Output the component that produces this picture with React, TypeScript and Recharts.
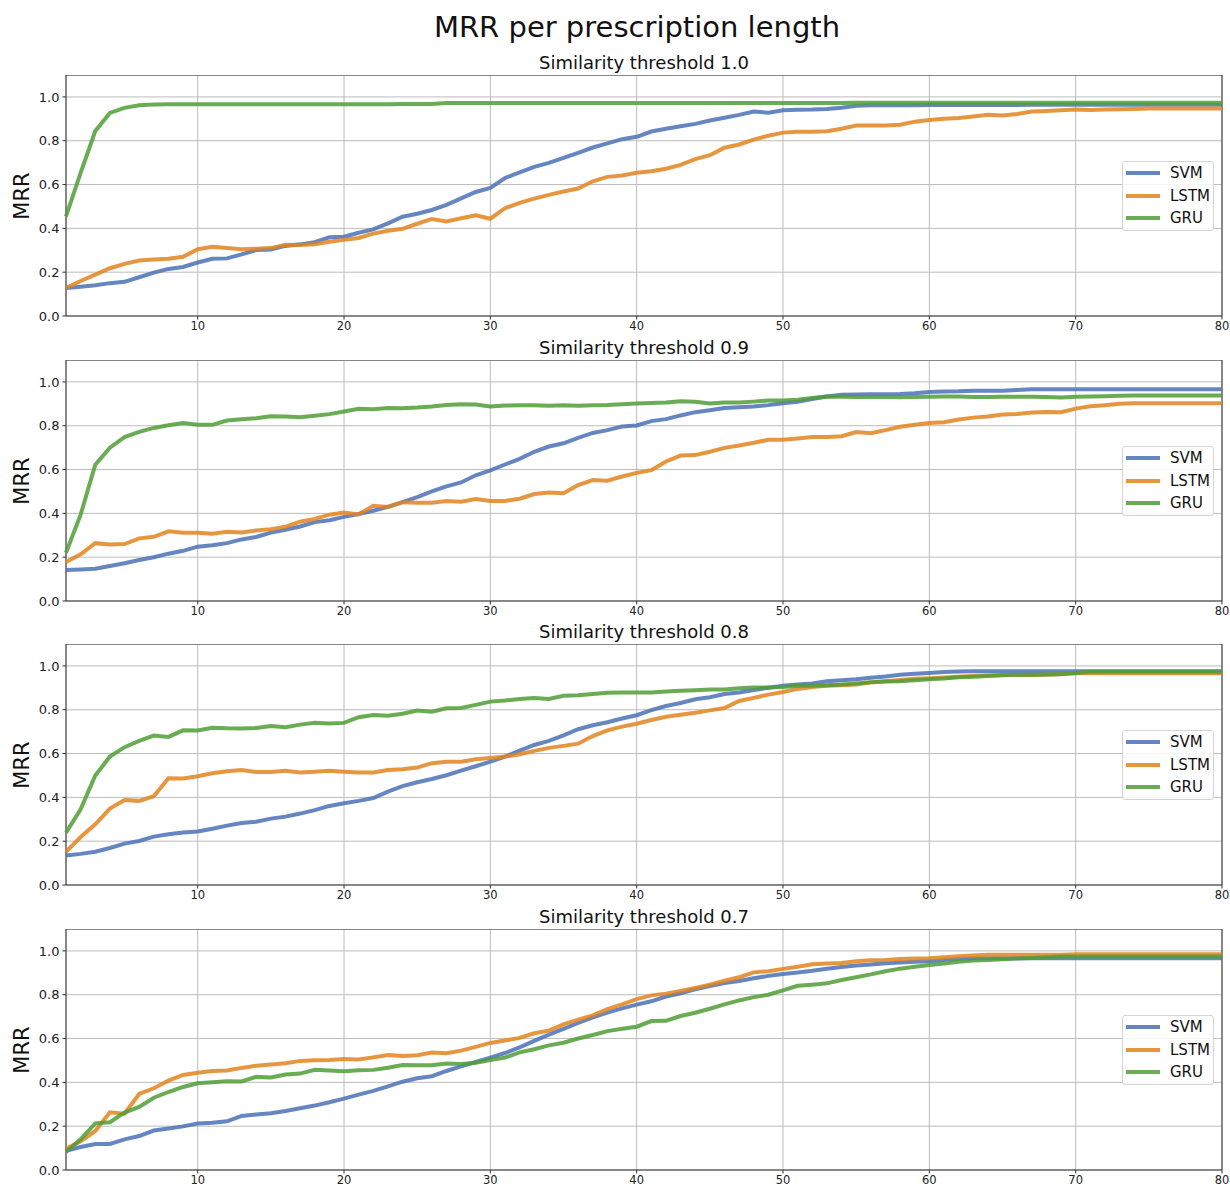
import React from "react"
import { LineChart, Line, XAxis, YAxis, CartesianGrid, Legend, ReferenceArea } from "recharts"

// prescription lengths 1..80
const lengths = Array.from({ length: 80 }, (_, i) => i + 1)
const xTicks = [10, 20, 30, 40, 50, 60, 70, 80]
const yTicks = [0, 0.2, 0.4, 0.6, 0.8, 1.0]
const seriesNames = ["SVM", "LSTM", "GRU"]

// threshold 1.0
const svm10 = [
  0.128, 0.134, 0.14, 0.15, 0.156, 0.177, 0.198, 0.215, 0.224, 0.244,
  0.261, 0.263, 0.281, 0.301, 0.304, 0.32, 0.327, 0.337, 0.359, 0.362,
  0.38, 0.395, 0.423, 0.453, 0.467, 0.484, 0.507, 0.537, 0.566, 0.585,
  0.63, 0.655, 0.681, 0.699, 0.722, 0.745, 0.769, 0.788, 0.807, 0.818,
  0.842, 0.855, 0.866, 0.877, 0.892, 0.905, 0.918, 0.933, 0.928, 0.939,
  0.941, 0.942, 0.945, 0.951, 0.96, 0.962, 0.962, 0.962, 0.962, 0.963,
  0.963, 0.963, 0.963, 0.963, 0.963, 0.963, 0.964, 0.964, 0.964, 0.964,
  0.964, 0.964, 0.964, 0.964, 0.964, 0.964, 0.964, 0.964, 0.964, 0.964,
]
const lstm10 = [
  0.128, 0.16, 0.189, 0.218, 0.238, 0.253, 0.258, 0.261, 0.27, 0.305,
  0.316, 0.31, 0.305, 0.307, 0.31, 0.325, 0.324, 0.328, 0.339, 0.348,
  0.356, 0.376, 0.389, 0.398, 0.421, 0.443, 0.432, 0.446, 0.46, 0.444,
  0.492, 0.516, 0.536, 0.553, 0.568, 0.582, 0.615, 0.635, 0.641, 0.654,
  0.661, 0.672, 0.69, 0.716, 0.734, 0.768, 0.783, 0.805, 0.823, 0.837,
  0.841, 0.841, 0.843, 0.855, 0.869, 0.87, 0.87, 0.873, 0.887, 0.895,
  0.9, 0.904, 0.911, 0.918, 0.915, 0.922, 0.933, 0.936, 0.939, 0.942,
  0.94, 0.942, 0.944, 0.945, 0.947, 0.947, 0.947, 0.947, 0.947, 0.947,
]
const gru10 = [
  0.455, 0.653, 0.844, 0.927, 0.95, 0.962, 0.965, 0.966, 0.966, 0.966,
  0.966, 0.966, 0.966, 0.966, 0.966, 0.966, 0.966, 0.966, 0.966, 0.966,
  0.966, 0.966, 0.966, 0.968, 0.968, 0.968, 0.972, 0.972, 0.972, 0.972,
  0.972, 0.972, 0.972, 0.972, 0.972, 0.972, 0.972, 0.972, 0.972, 0.972,
  0.972, 0.972, 0.972, 0.972, 0.972, 0.972, 0.972, 0.972, 0.972, 0.972,
  0.972, 0.972, 0.972, 0.972, 0.973, 0.973, 0.973, 0.973, 0.973, 0.973,
  0.973, 0.973, 0.973, 0.973, 0.973, 0.973, 0.973, 0.973, 0.973, 0.973,
  0.973, 0.973, 0.973, 0.973, 0.973, 0.973, 0.973, 0.973, 0.973, 0.973,
]

// threshold 0.9
const svm09 = [
  0.141, 0.144, 0.147, 0.16, 0.172, 0.187, 0.2, 0.216, 0.229, 0.248,
  0.254, 0.264, 0.281, 0.292, 0.312, 0.325, 0.34, 0.36, 0.369, 0.384,
  0.397, 0.412, 0.43, 0.451, 0.474, 0.5, 0.523, 0.541, 0.574, 0.596,
  0.623, 0.649, 0.681, 0.705, 0.72, 0.745, 0.767, 0.78, 0.796, 0.801,
  0.821, 0.83, 0.847, 0.862, 0.871, 0.881, 0.884, 0.888, 0.894, 0.903,
  0.909, 0.922, 0.933, 0.941, 0.942, 0.944, 0.944, 0.945, 0.948, 0.954,
  0.956, 0.957, 0.96, 0.96, 0.96, 0.963, 0.966, 0.966, 0.966, 0.966,
  0.966, 0.966, 0.966, 0.966, 0.966, 0.966, 0.966, 0.966, 0.966, 0.966,
]
const lstm09 = [
  0.178, 0.213, 0.264, 0.258, 0.26, 0.286, 0.293, 0.318, 0.312, 0.312,
  0.307, 0.316, 0.313, 0.322, 0.328, 0.339, 0.362, 0.375, 0.394, 0.404,
  0.395, 0.435, 0.429, 0.451, 0.448, 0.448, 0.456, 0.453, 0.465, 0.457,
  0.457, 0.467, 0.488, 0.495, 0.492, 0.529, 0.552, 0.549, 0.568, 0.585,
  0.597, 0.637, 0.664, 0.666, 0.681, 0.699, 0.71, 0.722, 0.736, 0.736,
  0.742, 0.748, 0.749, 0.752, 0.771, 0.766, 0.78, 0.795, 0.804, 0.812,
  0.816, 0.828, 0.837, 0.842, 0.851, 0.854, 0.86, 0.863, 0.862, 0.878,
  0.889, 0.894, 0.9, 0.903, 0.903, 0.903, 0.903, 0.903, 0.903, 0.903,
]
const gru09 = [
  0.22, 0.394, 0.622, 0.7, 0.748, 0.772, 0.79, 0.802, 0.812, 0.805,
  0.804, 0.824, 0.83, 0.834, 0.843, 0.842, 0.839, 0.846, 0.853, 0.865,
  0.877, 0.875, 0.881, 0.88, 0.883, 0.888, 0.895, 0.898, 0.897, 0.888,
  0.892, 0.894, 0.894, 0.891, 0.894, 0.891, 0.894, 0.895, 0.898, 0.902,
  0.904, 0.906, 0.912, 0.909, 0.901, 0.906, 0.906, 0.91, 0.915, 0.915,
  0.919, 0.927, 0.933, 0.932, 0.931, 0.931, 0.931, 0.93, 0.931, 0.932,
  0.933, 0.933, 0.931, 0.931, 0.932, 0.932, 0.932, 0.931, 0.929, 0.932,
  0.933, 0.935, 0.937, 0.938, 0.938, 0.938, 0.938, 0.938, 0.938, 0.938,
]

// threshold 0.8
const svm08 = [
  0.135, 0.142, 0.152, 0.169, 0.189, 0.201, 0.221, 0.232, 0.24, 0.244,
  0.257, 0.271, 0.283, 0.289, 0.303, 0.312, 0.326, 0.342, 0.361, 0.373,
  0.384, 0.397, 0.426, 0.451, 0.469, 0.484, 0.501, 0.522, 0.542, 0.563,
  0.586, 0.613, 0.639, 0.658, 0.683, 0.711, 0.729, 0.743, 0.76, 0.775,
  0.798, 0.817, 0.831, 0.848, 0.857, 0.872, 0.879, 0.89, 0.9, 0.91,
  0.915, 0.92, 0.93, 0.935, 0.939, 0.946, 0.952, 0.96, 0.964, 0.968,
  0.972, 0.975, 0.976, 0.976, 0.976, 0.976, 0.976, 0.976, 0.976, 0.976,
  0.976, 0.976, 0.976, 0.976, 0.976, 0.976, 0.976, 0.976, 0.976, 0.976,
]
const lstm08 = [
  0.151, 0.219, 0.277, 0.349, 0.388, 0.384, 0.405, 0.487, 0.486, 0.496,
  0.51, 0.519, 0.525, 0.516, 0.516, 0.521, 0.513, 0.517, 0.521, 0.517,
  0.514, 0.514, 0.525, 0.528, 0.536, 0.556, 0.563, 0.563, 0.574, 0.58,
  0.586, 0.597, 0.612, 0.626, 0.635, 0.645, 0.68, 0.706, 0.723, 0.736,
  0.753, 0.768, 0.777, 0.786, 0.797, 0.808, 0.84, 0.854, 0.869, 0.881,
  0.895, 0.904, 0.909, 0.912, 0.915, 0.924, 0.93, 0.936, 0.941, 0.944,
  0.947, 0.951, 0.954, 0.956, 0.958, 0.959, 0.959, 0.96, 0.962, 0.966,
  0.967, 0.967, 0.967, 0.967, 0.967, 0.967, 0.967, 0.967, 0.967, 0.967,
]
const gru08 = [
  0.239, 0.345, 0.5, 0.586, 0.629, 0.658, 0.682, 0.676, 0.706, 0.705,
  0.718, 0.715, 0.714, 0.717, 0.726, 0.72, 0.732, 0.74, 0.737, 0.74,
  0.766, 0.776, 0.773, 0.782, 0.796, 0.791, 0.807, 0.808, 0.822, 0.837,
  0.842, 0.849, 0.854, 0.849, 0.864, 0.866, 0.872, 0.878, 0.879, 0.879,
  0.879, 0.883, 0.887, 0.889, 0.892, 0.892, 0.898, 0.901, 0.902, 0.904,
  0.909, 0.91, 0.912, 0.915, 0.92, 0.926, 0.929, 0.93, 0.935, 0.939,
  0.942, 0.948, 0.951, 0.954, 0.957, 0.96, 0.96, 0.961, 0.963, 0.968,
  0.973, 0.973, 0.973, 0.973, 0.973, 0.973, 0.973, 0.973, 0.973, 0.973,
]

// threshold 0.7
const svm07 = [
  0.088, 0.105, 0.119, 0.119, 0.14, 0.155, 0.18, 0.189, 0.199, 0.212,
  0.216, 0.222, 0.247, 0.253, 0.259, 0.269, 0.282, 0.294, 0.309, 0.326,
  0.344, 0.361, 0.382, 0.403, 0.419, 0.428, 0.452, 0.473, 0.493, 0.513,
  0.534, 0.56, 0.589, 0.618, 0.644, 0.671, 0.697, 0.718, 0.738, 0.755,
  0.77, 0.792, 0.807, 0.825, 0.84, 0.853, 0.863, 0.875, 0.886, 0.895,
  0.901, 0.909, 0.919, 0.927, 0.933, 0.938, 0.944, 0.947, 0.95, 0.953,
  0.959, 0.963, 0.967, 0.967, 0.967, 0.967, 0.967, 0.967, 0.967, 0.967,
  0.967, 0.967, 0.967, 0.967, 0.967, 0.967, 0.967, 0.967, 0.967, 0.967,
]
const lstm07 = [
  0.097, 0.131, 0.178, 0.263, 0.257, 0.347, 0.373, 0.408, 0.434, 0.444,
  0.452, 0.454, 0.466, 0.476, 0.481, 0.487, 0.498, 0.501, 0.502, 0.507,
  0.504, 0.514, 0.525, 0.52, 0.524, 0.536, 0.533, 0.545, 0.562, 0.58,
  0.591, 0.603, 0.624, 0.636, 0.665, 0.686, 0.706, 0.734, 0.756, 0.78,
  0.797, 0.805, 0.817, 0.831, 0.846, 0.864, 0.88, 0.902, 0.907, 0.918,
  0.928, 0.939, 0.942, 0.945, 0.953, 0.957, 0.959, 0.963, 0.965, 0.966,
  0.971, 0.976, 0.979, 0.982, 0.982, 0.982, 0.982, 0.982, 0.982, 0.985,
  0.985, 0.985, 0.985, 0.985, 0.985, 0.985, 0.985, 0.985, 0.985, 0.985,
]
const gru07 = [
  0.082, 0.14, 0.213, 0.218, 0.262, 0.288, 0.33, 0.356, 0.379, 0.396,
  0.4, 0.405, 0.404, 0.425, 0.422, 0.436, 0.44, 0.457, 0.454, 0.451,
  0.455, 0.457, 0.467, 0.479, 0.478, 0.478, 0.486, 0.484, 0.49, 0.502,
  0.513, 0.537, 0.551, 0.569, 0.581, 0.6, 0.616, 0.634, 0.645, 0.654,
  0.68, 0.681, 0.703, 0.718, 0.736, 0.756, 0.774, 0.789, 0.8, 0.82,
  0.841, 0.846, 0.852, 0.867, 0.88, 0.893, 0.907, 0.919, 0.928, 0.936,
  0.942, 0.951, 0.956, 0.959, 0.962, 0.965, 0.968, 0.971, 0.975, 0.975,
  0.975, 0.975, 0.975, 0.975, 0.975, 0.975, 0.975, 0.975, 0.975, 0.975,
]

const thresholds = ["1.0", "0.9", "0.8", "0.7"]
const svmSeries = [svm10, svm09, svm08, svm07]
const lstmSeries = [lstm10, lstm09, lstm08, lstm07]
const gruSeries = [gru10, gru09, gru08, gru07]

const FONT = "'DejaVu Sans', Verdana, sans-serif"
const COLORS = { svm: "#4a71b6", lstm: "#e3841f", gru: "#4f9e36" }
const PLOT_TOPS = [75, 360, 644, 929]
const PLOT_H = 241
const LINE_W = 4

function LegendBox({ payload }: any) {
  // keep plotting order (recharts sorts legend items by name otherwise)
  const items = seriesNames
    .map((n) => (payload || []).find((p: any) => p.value === n))
    .filter(Boolean)
  return (
    <div
      style={{
        border: "1px solid #d4d4d4",
        borderRadius: 3,
        background: "rgba(255,255,255,0.85)",
        fontFamily: FONT,
        fontSize: 15,
        color: "#111",
        boxSizing: "border-box",
      }}
    >
      {items.map((entry: any) => (
        <div key={entry.value} style={{ display: "flex", alignItems: "center", height: 22.5 }}>
          <span
            style={{
              display: "inline-block",
              width: 34,
              height: LINE_W,
              marginLeft: 3,
              marginRight: 10,
              background: entry.color,
              opacity: 0.85,
            }}
          />
          <span>{entry.value}</span>
        </div>
      ))}
    </div>
  )
}

function Panel({ idx }: { idx: number }) {
  const top = PLOT_TOPS[idx]
  const rows = lengths.map((x, i) => ({
    x,
    svm: svmSeries[idx][i],
    lstm: lstmSeries[idx][i],
    gru: gruSeries[idx][i],
  }))

  return (
    <>
      {/* subplot title */}
      <div
        style={{
          position: "absolute",
          left: 66,
          width: 1156,
          top: top - 23,
          height: 22,
          lineHeight: "22px",
          textAlign: "center",
          fontSize: 18,
          fontFamily: FONT,
          color: "#111",
        }}
      >
        Similarity threshold {thresholds[idx]}
      </div>

      {/* y label */}
      <div
        style={{
          position: "absolute",
          left: 22,
          top: top + PLOT_H / 2,
          transform: "translate(-50%, -50%) rotate(-90deg)",
          fontSize: 21,
          fontFamily: FONT,
          color: "#111",
          whiteSpace: "nowrap",
        }}
      >
        MRR
      </div>

      <div style={{ position: "absolute", left: 0, top }}>
        <LineChart width={1230} height={PLOT_H + 22} data={rows} margin={{ top: 0, right: 8, bottom: 0, left: 0 }}>
          <CartesianGrid stroke="#bcbcbc" strokeWidth={1} />
          <XAxis
            dataKey="x"
            type="number"
            domain={[1, 80]}
            ticks={xTicks}
            interval={0}
            height={22}
            axisLine={false}
            tickLine={{ stroke: "#333" }}
            tickSize={3.5}
            tickMargin={2}
            tick={{ fontSize: 11.5, fill: "#222", fontFamily: FONT }}
          />
          <YAxis
            type="number"
            domain={[0, 1.1]}
            ticks={yTicks}
            interval={0}
            width={66}
            axisLine={false}
            tickLine={{ stroke: "#333" }}
            tickSize={3.5}
            tickMargin={3}
            tickFormatter={(v: number) => v.toFixed(1)}
            tick={{ fontSize: 13, fill: "#222", fontFamily: FONT }}
          />
          <Line type="linear" dataKey="svm" name="SVM" stroke={COLORS.svm} strokeOpacity={0.85} strokeWidth={LINE_W} dot={false} isAnimationActive={false} />
          <Line type="linear" dataKey="lstm" name="LSTM" stroke={COLORS.lstm} strokeOpacity={0.85} strokeWidth={LINE_W} dot={false} isAnimationActive={false} />
          <Line type="linear" dataKey="gru" name="GRU" stroke={COLORS.gru} strokeOpacity={0.85} strokeWidth={LINE_W} dot={false} isAnimationActive={false} />
          {/* axes frame */}
          <ReferenceArea x1={1} x2={80} y1={0} y2={1.1} fill="none" stroke="#333" strokeWidth={1} />
          <Legend
            layout="vertical"
            align="center"
            verticalAlign="middle"
            wrapperStyle={{ left: 1122, top: 86, width: 92 }}
            content={<LegendBox />}
          />
        </LineChart>
      </div>
    </>
  )
}

export default function App() {
  return (
    <div style={{ position: "absolute", left: 0, top: 0, width: 1230, height: 1189, background: "#fff" }}>
      <div
        style={{
          position: "absolute",
          left: 0,
          width: 1274,
          top: 10,
          height: 34,
          lineHeight: "34px",
          textAlign: "center",
          fontSize: 29,
          fontFamily: FONT,
          color: "#111",
        }}
      >
        MRR per prescription length
      </div>
      {thresholds.map((t, i) => (
        <Panel key={t} idx={i} />
      ))}
    </div>
  )
}
